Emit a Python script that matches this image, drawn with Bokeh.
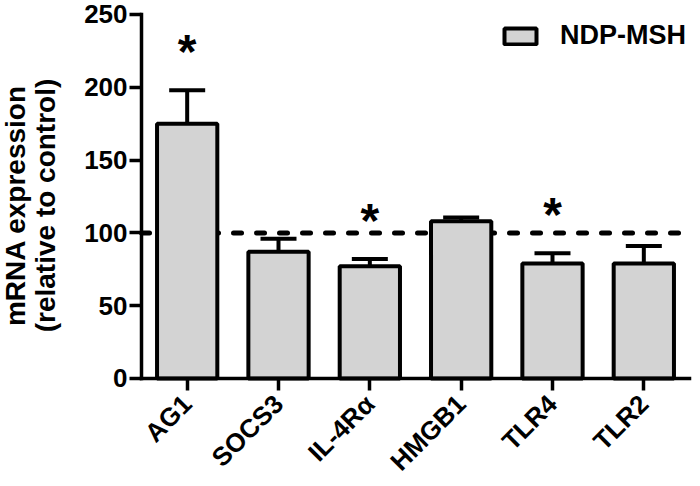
from math import pi
from bokeh.plotting import figure
from bokeh.models import (Range1d, FixedTicker, Whisker, ColumnDataSource,
                          Legend, LegendItem, Label, TeeHead)
from bokeh.core.properties import value
from bokeh.embed import file_html
from bokeh.resources import INLINE

genes = ["AG1", "SOCS3", "IL-4R\u03b1", "HMGB1", "TLR4", "TLR2"]
expression = [175, 87, 77, 108, 79, 79]
sem = [23, 9, 5, 2.5, 7, 12]
significant = [True, False, True, False, True, False]
control_level = 100
y_ticks = [0, 50, 100, 150, 200, 250]
series_name = "NDP-MSH"
y_title = "mRNA expression\n(relative to control)"

FONT = "Liberation Sans"

xs = list(range(len(genes)))
x_lo, x_hi = xs[0] - 0.5, xs[-1] + 0.5
tops = [m + e for m, e in zip(expression, sem)]
src = ColumnDataSource(dict(x=xs, y=expression, top=tops, gene=genes))
star_src = ColumnDataSource(dict(
    x=[x for x, s in zip(xs, significant) if s],
    y=[t for t, s in zip(tops, significant) if s],
    t=["*" for s in significant if s],
))

p = figure(width=692, height=478, output_backend="svg", toolbar_location=None,
           x_range=Range1d(-2.044, 5.533), y_range=Range1d(-68.7, 259.6),
           min_border_left=0, min_border_right=0, min_border_top=0,
           min_border_bottom=0)
p.outline_line_color = None
p.xgrid.visible = False
p.ygrid.visible = False

# control level (dashed), behind the bars
p.line(x=[x_lo, x_hi + 0.03], y=[control_level, control_level],
       line_color="black", line_width=5, line_dash="8 15", line_cap="round",
       level="underlay")

bars = p.vbar(x="x", top="y", width=0.66, bottom=0, source=src,
              fill_color="#d3d3d3", line_color="black", line_width=4)

wh = Whisker(base="x", lower="y", upper="top", source=src, dimension="height",
             line_width=4, line_color="black",
             upper_head=TeeHead(size=36, line_width=4, line_color="black"),
             lower_head=None, level="glyph")
p.add_layout(wh)

p.text(x="x", y="y", text="t", source=star_src, text_align="center",
       text_baseline="alphabetic", y_offset=-39, text_font=value(FONT),
       text_font_style="bold", text_font_size="48px", text_color="black")

# axes
for ax in (p.xaxis[0], p.yaxis[0]):
    ax.axis_line_width = 3.5
    ax.major_tick_line_width = 3.5
    ax.major_tick_out = 12
    ax.major_tick_in = 0
    ax.minor_tick_line_color = None
    ax.major_label_text_font = FONT
    ax.major_label_text_font_style = "bold"
    ax.major_label_text_font_size = "26px"
    ax.major_label_text_color = "black"
    ax.axis_line_cap = "square"

p.yaxis.fixed_location = x_lo
p.yaxis.ticker = FixedTicker(ticks=y_ticks)
p.yaxis.bounds = (y_ticks[0], y_ticks[-1])
p.yaxis.major_label_standoff = 2

p.xaxis.fixed_location = 0
p.xaxis.ticker = FixedTicker(ticks=xs)
p.xaxis.bounds = (x_lo, x_hi)
p.xaxis.major_label_overrides = {x: g for x, g in zip(xs, genes)}
p.xaxis.major_label_orientation = pi / 4
p.xaxis.major_label_standoff = 9

ylab = Label(x=30, y=273, x_units="screen", y_units="screen",
             text=y_title, angle=pi / 2, text_align="center",
             text_baseline="middle", text_font=FONT,
             text_font_style="bold", text_font_size="28px",
             text_line_height=0.95, text_color="black")
p.add_layout(ylab)

legend = Legend(items=[LegendItem(label=series_name, renderers=[bars])],
                location=(500, 427), glyph_width=40, glyph_height=20,
                label_standoff=20, padding=0, margin=0, spacing=0,
                border_line_color=None, background_fill_alpha=0,
                label_text_font=FONT, label_text_font_style="bold",
                label_text_font_size="27px", label_text_color="black")
p.add_layout(legend)

open("out.html", "w").write(file_html(p, INLINE))
